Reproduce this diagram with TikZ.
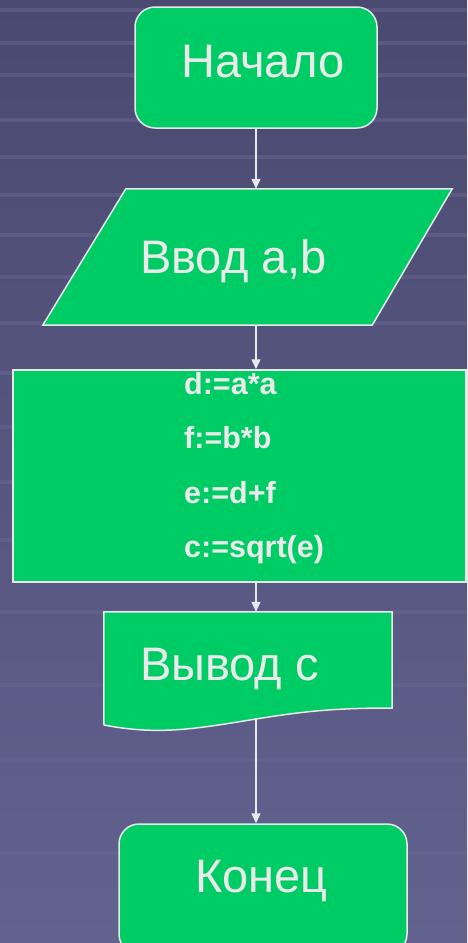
\documentclass[tikz,border=0pt]{standalone}
\usepackage{fontspec}
\setmainfont{Liberation Sans}
\usetikzlibrary{arrows.meta}
\definecolor{bgtop}{HTML}{4A4970}
\definecolor{bgbot}{HTML}{62628F}
\definecolor{stripe}{HTML}{6A6A95}
\definecolor{boxgreen}{HTML}{00CC66}
\definecolor{txt}{HTML}{EAEAEA}
\definecolor{edge}{HTML}{E8E8E8}
\tikzset{
  shapebox/.style={draw=edge, fill=boxgreen, line width=1.5pt, inner sep=0pt},
  termbox/.style={shapebox, rounded corners=20pt},
  bigtext/.style={text=txt, inner sep=0pt, anchor=base west, font=\fontsize{47}{50}\selectfont},
  codetext/.style={text=txt, inner sep=0pt, anchor=base west, font=\fontsize{30.5}{32}\selectfont\bfseries},
  flow/.style={draw=edge, line width=1.3pt, -{Triangle[width=9pt,length=10pt]}},
}
\begin{document}
\begin{tikzpicture}[x=1pt,y=-1pt]
\useasboundingbox (0,0) rectangle (467,943);
\shade[top color=bgtop, bottom color=bgbot] (0,0) rectangle (467,943);
\foreach \yy in {10,43,75,120,157,195,235,277,323,373,427,482,540,612,685,760,853}
  \draw[stripe, opacity=0.45, line width=4pt] (0,\yy) -- (467,\yy);

% Start
\node[termbox, minimum width=242pt, minimum height=121pt] (start) at (256,67.5) {};
\node[bigtext] (starttxt) at (181,77) {Начало};

% Input (parallelogram)
\node[inner sep=0pt, minimum width=409pt, minimum height=136pt] (input) at (247.5,257) {};
\draw[shapebox] ([xshift=83pt]input.north west) -- (input.north east)
   -- ([xshift=-80pt]input.south east) -- (input.south west) -- cycle;
\node[bigtext] (inputtxt) at (140,273) {Ввод a,b};

% Process
\node[shapebox, minimum width=453pt, minimum height=212pt] (proc) at (239.5,476) {};
\node[codetext] (l1) at (184,394) {d:=a*a};
\node[codetext] (l2) at (184,448) {f:=b*b};
\node[codetext] (l3) at (184,503) {e:=d+f};
\node[codetext] (l4) at (184,557) {c:=sqrt(e)};

% Output (document)
\node[inner sep=0pt, minimum width=288pt, minimum height=120pt] (out) at (248,672) {};
\draw[shapebox] (out.north west) -- (out.north east) -- (392,708)
   .. controls (330,708) and (300,712) .. (256,719)
   .. controls (200,728) and (160,736) .. (104,725) -- cycle;
\node[bigtext] (outtxt) at (140,680) {Вывод с};
\coordinate (outb) at (256,718);

% End
\node[termbox, minimum width=288pt, minimum height=130pt] (end) at (263,889) {};
\node[bigtext] (endtxt) at (195,892) {Конец};

% Connectors
\draw[flow] (start.south -| 256,0) -- (256,0 |- input.north);
\draw[flow] (256,0 |- input.south) -- (256,0 |- proc.north);
\draw[flow] (256,0 |- proc.south) -- (256,0 |- out.north);
\draw[flow] (outb) -- (outb |- end.north);
\end{tikzpicture}
\end{document}
